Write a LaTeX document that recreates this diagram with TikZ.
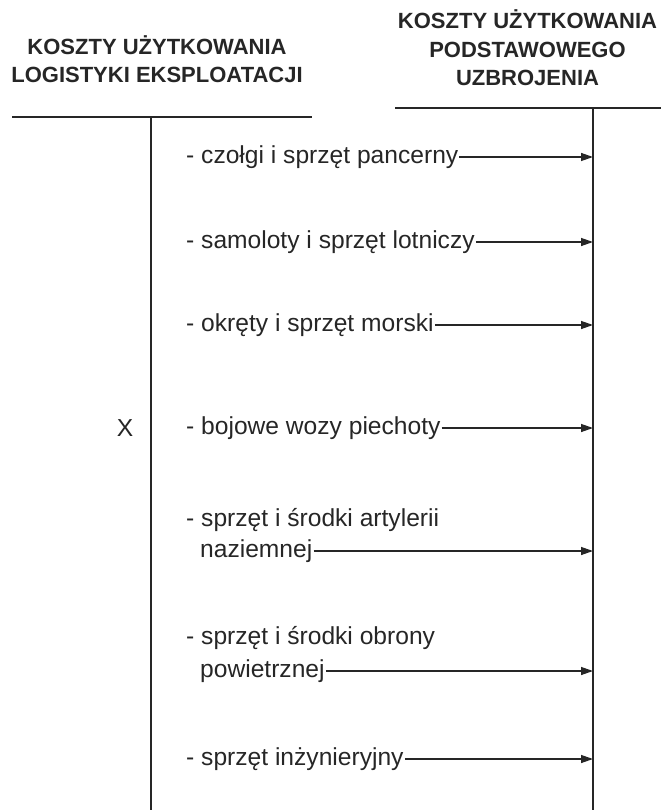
\documentclass[tikz,border=0pt]{standalone}
\usepackage{fontspec}
\setmainfont{Liberation Sans}
\usetikzlibrary{arrows.meta}
\definecolor{ink}{HTML}{262626}
\tikzset{
  hdr/.style={font=\bfseries\fontsize{22}{28.5}\selectfont, align=center, text=ink, inner sep=0pt},
  item/.style={font=\fontsize{24.6}{30}\selectfont, anchor=west, text=ink, inner sep=1pt},
  rule/.style={draw=ink, line width=1.8pt},
  arr/.style={draw=ink, line width=1.3pt, -{Triangle[length=12pt,width=8pt]}},
}
\begin{document}
\begin{tikzpicture}[x=1pt,y=1pt]
\useasboundingbox (0,0) rectangle (661,-810);
% headers
\node[hdr] (hL) at (157,-59) {KOSZTY UŻYTKOWANIA\\LOGISTYKI EKSPLOATACJI};
\node[hdr] (hR) at (527.5,-48) {KOSZTY UŻYTKOWANIA\\PODSTAWOWEGO\\UZBROJENIA};
% rules
\coordinate (lA) at (12,-117);
\coordinate (lB) at (312,-117);
\coordinate (lTop) at (151,-117);
\coordinate (lBot) at (151,-810);
\coordinate (rA) at (395,-108);
\coordinate (rB) at (661,-108);
\coordinate (rTop) at (593,-108);
\coordinate (rBot) at (593,-810);
\draw[rule] (lA) -- (lB);
\draw[rule] (rA) -- (rB);
\draw[rule] (lTop) -- (lBot);
\draw[rule] (rTop) -- (rBot);
% X
\node[font=\fontsize{24.6}{30}\selectfont, text=ink] (x) at (125,-428) {X};
% items
\node[item] (i1) at (185,-157) {- czołgi i sprzęt pancerny};
\node[item] (i2) at (185,-242) {- samoloty i sprzęt lotniczy};
\node[item] (i3) at (185,-325) {- okręty i sprzęt morski};
\node[item] (i4) at (185,-428) {- bojowe wozy piechoty};
\node[item] (i5a) at (185,-520) {- sprzęt i środki artylerii};
\node[item] (i5) at (199,-551) {naziemnej};
\node[item] (i6a) at (185,-638) {- sprzęt i środki obrony};
\node[item] (i6) at (199,-671) {powietrznej};
\node[item] (i7) at (185,-759) {- sprzęt inżynieryjny};
% arrows
\foreach \n in {i1,i2,i3,i4,i5,i6,i7}{
  \draw[arr] (\n.east) -- (\n.east -| rTop);
}
\end{tikzpicture}
\end{document}
